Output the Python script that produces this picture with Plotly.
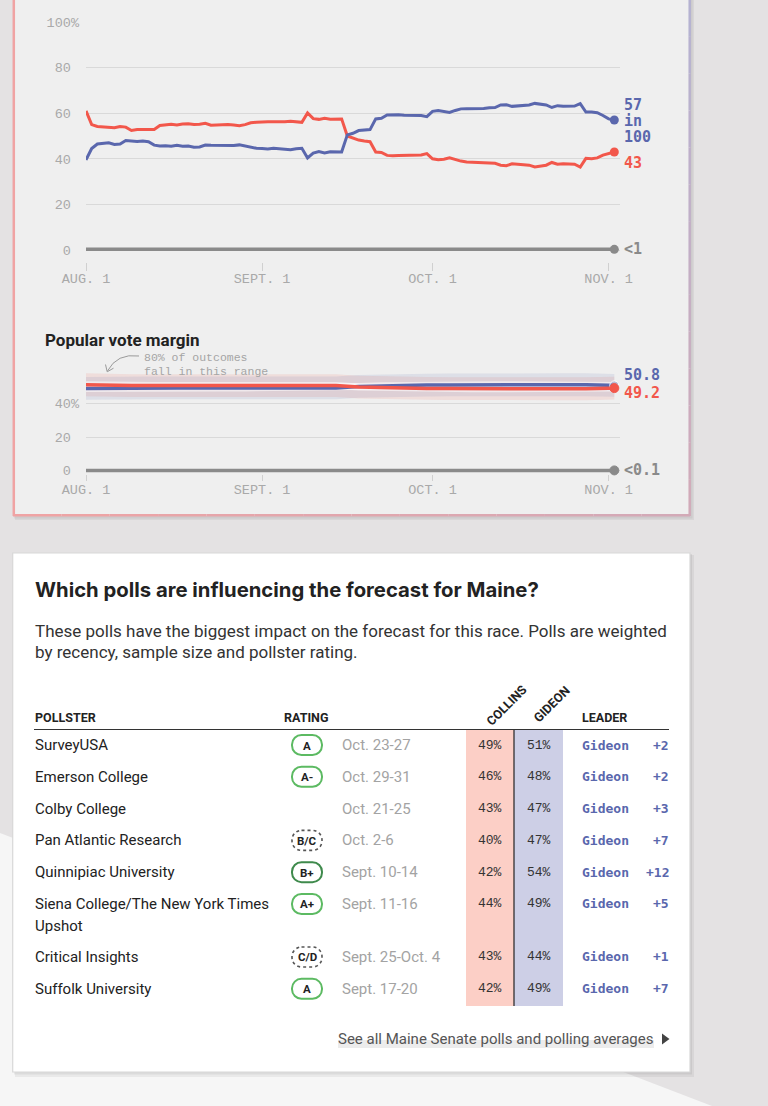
import plotly.graph_objects as go
import pandas as pd

# ---------------- DATA ----------------
# Chance of winning, daily from Aug. 1 to Nov. 2 (in 100)
gideon_win = [39.5, 44.5, 46.5, 46.8, 47.0, 46.3, 46.5, 48.0, 47.8, 47.6, 47.8, 47.5, 46.0, 45.6, 45.7,
              45.5, 45.9, 45.5, 45.6, 45.1, 45.2, 46.0, 45.9, 45.8, 45.9, 45.6, 45.8, 46.1, 45.5, 44.9,
              44.6, 44.5, 44.3, 44.6, 44.4, 44.2, 44.0, 44.4, 44.6, 40.4, 42.5, 43.2, 42.6, 43.1, 43.0,
              43.0, 50.5, 51.2, 52.4, 52.6, 52.8, 57.5, 57.8, 59.2, 59.4, 59.3, 59.1, 59.0, 58.8, 59.0,
              58.5, 60.8, 61.2, 60.8, 60.3, 61.2, 61.9, 62.0, 62.0, 62.1, 62.1, 62.4, 62.5, 63.6, 63.7,
              63.0, 63.2, 63.3, 63.6, 64.3, 63.9, 63.6, 62.5, 63.3, 63.0, 63.0, 63.1, 64.2, 60.5, 60.5,
              60.2, 59.0, 57.5, 57.0]
collins_win = [61.0, 55.0, 54.2, 54.0, 53.8, 53.6, 54.2, 53.9, 52.4, 52.8, 52.8, 53.0, 52.9, 54.6, 55.0,
               55.1, 54.8, 55.3, 55.4, 55.0, 55.2, 55.6, 54.7, 54.8, 55.0, 55.0, 54.8, 54.5, 55.0, 55.8,
               56.0, 56.2, 56.3, 56.2, 56.1, 56.3, 56.5, 56.2, 56.0, 60.1, 57.6, 57.3, 57.8, 57.4, 57.5,
               57.5, 50.0, 49.2, 48.2, 47.8, 47.5, 43.0, 42.8, 41.5, 41.3, 41.5, 41.6, 41.8, 41.9, 41.7,
               42.3, 40.0, 39.6, 39.8, 40.4, 39.6, 39.0, 38.6, 38.5, 38.4, 38.4, 38.2, 38.0, 37.2, 37.0,
               37.8, 37.6, 37.4, 37.2, 36.4, 36.8, 37.2, 38.4, 37.6, 37.8, 37.7, 37.6, 36.4, 40.2, 40.0,
               40.4, 41.6, 42.4, 43.0]
other_dates = ["2020-08-01", "2020-11-02"]
other_win = [0.3, 0.3]

# Popular vote share (every few days)
margin_days = [0, 4, 8, 12, 16, 20, 24, 28, 32, 36, 40, 44, 48, 52, 56, 60, 64, 68, 72, 76, 80, 84, 88, 92, 93]
gideon_vote = [49.0, 49.2, 49.3, 49.3, 49.3, 49.2, 49.3, 49.3, 49.3, 49.3, 49.2, 49.3, 50.2, 50.6, 50.9,
               51.0, 51.1, 51.2, 51.2, 51.2, 51.3, 51.2, 51.2, 50.9, 50.8]
collins_vote = [51.2, 50.8, 50.7, 50.7, 50.7, 50.8, 50.7, 50.7, 50.7, 50.7, 50.8, 50.7, 49.8, 49.4, 49.1,
                49.0, 48.9, 48.8, 48.8, 48.8, 48.7, 48.8, 48.8, 49.1, 49.2]
gideon_hi = [55.8, 56.0, 56.1, 56.1, 56.1, 56.0, 56.1, 56.1, 56.1, 56.1, 56.0, 56.1, 57.0, 57.4, 57.7,
             57.8, 57.9, 58.0, 58.0, 58.0, 58.1, 58.0, 58.0, 57.7, 57.6]
gideon_lo = [42.2, 42.4, 42.5, 42.5, 42.5, 42.4, 42.5, 42.5, 42.5, 42.5, 42.4, 42.5, 43.4, 43.8, 44.1,
             44.2, 44.3, 44.4, 44.4, 44.4, 44.5, 44.4, 44.4, 44.1, 44.0]
collins_hi = [58.0, 57.6, 57.5, 57.5, 57.5, 57.6, 57.5, 57.5, 57.5, 57.5, 57.6, 57.5, 56.6, 56.2, 55.9,
              55.8, 55.7, 55.6, 55.6, 55.6, 55.5, 55.6, 55.6, 55.9, 56.0]
collins_lo = [44.4, 44.0, 43.9, 43.9, 43.9, 44.0, 43.9, 43.9, 43.9, 43.9, 44.0, 43.9, 43.0, 42.6, 42.3,
              42.2, 42.1, 42.0, 42.0, 42.0, 41.9, 42.0, 42.0, 42.3, 42.4]
other_vote = [0.05, 0.05]

x_tickvals = ["2020-08-01", "2020-09-01", "2020-10-01", "2020-11-01"]
x_ticktext = ["AUG. 1", "SEPT. 1", "OCT. 1", "NOV. 1"]
y1_tickvals = [0, 20, 40, 60, 80, 100]
y1_ticktext = ["0\u00a0", "20\u00a0", "40\u00a0", "60\u00a0", "80\u00a0", "100%"]
y2_tickvals = [0, 20, 40]
y2_ticktext = ["0\u00a0", "20\u00a0", "40%"]

# Polls table
pollsters = ["SurveyUSA", "Emerson College", "Colby College", "Pan Atlantic Research",
             "Quinnipiac University", "Siena College/The New York Times|Upshot",
             "Critical Insights", "Suffolk University"]
ratings = ["A", "A-", "", "B/C", "B+", "A+", "C/D", "A"]
poll_dates = ["Oct. 23-27", "Oct. 29-31", "Oct. 21-25", "Oct. 2-6", "Sept. 10-14",
              "Sept. 11-16", "Sept. 25-Oct. 4", "Sept. 17-20"]
collins_pct = [49, 46, 43, 40, 42, 44, 43, 42]
gideon_pct = [51, 48, 47, 47, 54, 49, 44, 49]
leaders = ["Gideon"] * 8
leader_margin = [2, 2, 3, 7, 12, 5, 1, 7]

# ---------------- STYLE / HELPERS ----------------
W, H = 768, 1106
BLUE = "#5a67ad"
RED = "#f2574b"
GRAY = "#8a8a8a"
TICK = "#a9a9a9"
MONO = "Liberation Mono"
BMONO = "DejaVu Sans Mono"
SANS = "Roboto"

def X(p):
    return p / W

def Y(p):
    return 1 - p / H

shapes = []
annotations = []

def rect(x0, y0, x1, y1, fill, lc=None, lw=0, layer="below"):
    shapes.append(dict(type="rect", xref="paper", yref="paper", x0=X(x0), x1=X(x1), y0=Y(y1), y1=Y(y0),
                       fillcolor=fill, line=dict(color=lc or "rgba(0,0,0,0)", width=lw), layer=layer))

def seg(x0, y0, x1, y1, color, w, dash="solid", layer="below"):
    shapes.append(dict(type="line", xref="paper", yref="paper", x0=X(x0), y0=Y(y0), x1=X(x1), y1=Y(y1),
                       line=dict(color=color, width=w, dash=dash), layer=layer))

def pstr(cmds):
    out = []
    for c, pts in cmds:
        out.append(c + " " + " ".join(f"{X(a):.5f},{Y(b):.5f}" for a, b in pts))
    return " ".join(out)

def path(cmds, fill="rgba(0,0,0,0)", lc="rgba(0,0,0,0)", lw=0, dash="solid", close=True, layer="below"):
    s = pstr(cmds) + (" Z" if close else "")
    shapes.append(dict(type="path", xref="paper", yref="paper", path=s, fillcolor=fill,
                       line=dict(color=lc, width=lw, dash=dash), layer=layer))

def rrect(x0, y0, x1, y1, r, **kw):
    k = 0.5523 * r
    cmds = [("M", [(x0 + r, y0)]), ("L", [(x1 - r, y0)]),
            ("C", [(x1 - r + k, y0), (x1, y0 + r - k), (x1, y0 + r)]), ("L", [(x1, y1 - r)]),
            ("C", [(x1, y1 - r + k), (x1 - r + k, y1), (x1 - r, y1)]), ("L", [(x0 + r, y1)]),
            ("C", [(x0 + r - k, y1), (x0, y1 - r + k), (x0, y1 - r)]), ("L", [(x0, y0 + r)]),
            ("C", [(x0, y0 + r - k), (x0 + r - k, y0), (x0 + r, y0)])]
    path(cmds, **kw)

def txt(x, y, s, size, color, family=SANS, xanchor="left", angle=0):
    annotations.append(dict(xref="paper", yref="paper", x=X(x), y=Y(y), text=s, showarrow=False,
                            xanchor=xanchor, yanchor="middle", textangle=angle,
                            font=dict(size=size, color=color, family=family)))

def mix(c1, c2, t):
    a = [int(c1[i:i + 2], 16) for i in (1, 3, 5)]
    b = [int(c2[i:i + 2], 16) for i in (1, 3, 5)]
    return "#" + "".join(f"{round(a[i] + (b[i] - a[i]) * t):02x}" for i in range(3))

# ---------------- BACKGROUND ----------------
path([("M", [(0, 833)]), ("L", [(712, 1106)]), ("L", [(0, 1106)])], fill="#f6f6f6")

# top panel
rect(15, 0, 694, 520, "rgba(0,0,0,0.05)")
rect(14, 0, 692.5, 518.5, "rgba(0,0,0,0.05)")
rect(13, 0, 690, 516, "#efefef")
seg(13.8, 0, 13.8, 516, "#f0a3a3", 2.5)
n = 14
for i in range(n):
    xa = 13 + (690 - 13) * i / n
    xb = 13 + (690 - 13) * (i + 1) / n
    seg(xa, 515.3, xb, 515.3, mix("#f0a3a3", "#d2aab8", (i + 0.5) / n), 2.5)
for i in range(n):
    ya = 516 * i / n
    yb = 516 * (i + 1) / n
    seg(689.7, ya, 689.7, yb, mix("#b4b2d2", "#d2aab8", (i + 0.5) / n), 2.5)

# bottom panel
rect(15, 555, 694, 1077, "rgba(0,0,0,0.05)")
rect(14, 554, 692, 1074.5, "rgba(0,0,0,0.06)")
rect(12.7, 553, 690, 1072, "#ffffff", lc="#d8d8d8", lw=1.2)

# ---------------- CHARTS ----------------
dates = pd.date_range("2020-08-01", periods=len(gideon_win), freq="D")
mdates = pd.Timestamp("2020-08-01") + pd.to_timedelta(margin_days, unit="D")

fig = go.Figure()

# Chart 1: chance of winning
fig.add_trace(go.Scatter(x=dates, y=collins_win, mode="lines", line=dict(color=RED, width=3),
                         xaxis="x", yaxis="y", hoverinfo="skip"))
fig.add_trace(go.Scatter(x=dates, y=gideon_win, mode="lines", line=dict(color=BLUE, width=3),
                         xaxis="x", yaxis="y", hoverinfo="skip"))
fig.add_trace(go.Scatter(x=other_dates, y=other_win, mode="lines", line=dict(color=GRAY, width=3.5),
                         xaxis="x", yaxis="y", hoverinfo="skip"))
fig.add_trace(go.Scatter(x=[dates[-1], dates[-1], other_dates[-1]],
                         y=[gideon_win[-1], collins_win[-1], other_win[-1]], mode="markers",
                         marker=dict(color=[BLUE, RED, GRAY], size=9), cliponaxis=False,
                         xaxis="x", yaxis="y", hoverinfo="skip"))

# Chart 2: popular vote
fig.add_trace(go.Scatter(x=mdates, y=collins_hi, mode="lines", line=dict(width=0), xaxis="x2", yaxis="y2",
                         hoverinfo="skip"))
fig.add_trace(go.Scatter(x=mdates, y=collins_lo, mode="lines", line=dict(width=0), fill="tonexty",
                         fillcolor="rgba(242,87,75,0.12)", xaxis="x2", yaxis="y2", hoverinfo="skip"))
fig.add_trace(go.Scatter(x=mdates, y=gideon_hi, mode="lines", line=dict(width=0), xaxis="x2", yaxis="y2",
                         hoverinfo="skip"))
fig.add_trace(go.Scatter(x=mdates, y=gideon_lo, mode="lines", line=dict(width=0), fill="tonexty",
                         fillcolor="rgba(90,103,173,0.12)", xaxis="x2", yaxis="y2", hoverinfo="skip"))
for yy in (gideon_vote, collins_vote):
    fig.add_trace(go.Scatter(x=mdates, y=yy, mode="lines", line=dict(color="rgba(255,255,255,0.55)", width=7),
                             xaxis="x2", yaxis="y2", hoverinfo="skip"))
fig.add_trace(go.Scatter(x=mdates, y=gideon_vote, mode="lines", line=dict(color=BLUE, width=3.5),
                         xaxis="x2", yaxis="y2", hoverinfo="skip"))
fig.add_trace(go.Scatter(x=mdates, y=collins_vote, mode="lines", line=dict(color=RED, width=3.5),
                         xaxis="x2", yaxis="y2", hoverinfo="skip"))
fig.add_trace(go.Scatter(x=other_dates, y=other_vote, mode="lines", line=dict(color=GRAY, width=3.5),
                         xaxis="x2", yaxis="y2", hoverinfo="skip"))
fig.add_trace(go.Scatter(x=[mdates[-1], mdates[-1], other_dates[-1]],
                         y=[gideon_vote[-1], collins_vote[-1], other_vote[-1]], mode="markers",
                         marker=dict(color=["rgba(90,103,173,0.35)", RED, GRAY], size=9,
                                     line=dict(color=["#ffffff", RED, GRAY], width=1)),
                         cliponaxis=False, xaxis="x2", yaxis="y2", hoverinfo="skip"))

# end labels
txt(622, 105, "<b>57</b>", 15, BLUE, BMONO)
txt(622, 121, "<b>in</b>", 15, BLUE, BMONO)
txt(622, 137, "<b>100</b>", 15, BLUE, BMONO)
txt(622, 163, "<b>43</b>", 15, RED, BMONO)
txt(622, 249, "<b><1</b>", 15, GRAY, BMONO)
txt(622, 375, "<b>50.8</b>", 15, BLUE, BMONO)
txt(622, 393, "<b>49.2</b>", 15, RED, BMONO)
txt(622, 470, "<b><0.1</b>", 15, GRAY, BMONO)

txt(43, 339.5, "<b>Popular vote margin</b>", 17, "#222222", SANS)
txt(142, 357.5, "80% of outcomes", 11.5, "#a5a5a5", MONO)
txt(142, 371, "fall in this range", 11.5, "#a5a5a5", MONO)
path([("M", [(139, 356)]), ("Q", [(117, 353), (107.5, 371)])], lc="#9a9a9a", lw=1, close=False, layer="above")
path([("M", [(105.5, 364.5)]), ("L", [(107.2, 371.8)]), ("L", [(113.5, 368.2)])], lc="#9a9a9a", lw=1,
     close=False, layer="above")

# ---------------- TABLE ----------------
txt(33, 589, "<b>Which polls are influencing the forecast for Maine?</b>", 20.3, "#222222", "Inter")
txt(33, 631, "These polls have the biggest impact on the forecast for this race. Polls are weighted", 17, "#333333")
txt(33, 652, "by recency, sample size and pollster rating.", 17, "#333333")

txt(33, 717, "<b>POLLSTER</b>", 12.5, "#222222")
txt(282, 717, "<b>RATING</b>", 12.5, "#222222")
txt(580, 717, "<b>LEADER</b>", 12.5, "#222222")
txt(506, 705, "<b>COLLINS</b>", 12.5, "#222222", xanchor="center", angle=-45)
txt(551, 704, "<b>GIDEON</b>", 12.5, "#222222", xanchor="center", angle=-45)

rect(466, 729.5, 514, 1006, "#fccfc6")
rect(514, 729.5, 563, 1006, "#cdcfe6")
seg(514, 729.5, 514, 1006, "#222222", 1.2)
seg(34, 729.5, 669, 729.5, "#333333", 1.2)

row_y = []
yy0 = 745.0
for name in pollsters:
    row_y.append(yy0)
    yy0 += 31.8 + 21.2 * name.count("|")

for i, name in enumerate(pollsters):
    y = row_y[i]
    for j, part in enumerate(name.split("|")):
        txt(33, y + 22 * j, part, 15, "#222222")
    r = ratings[i]
    if r:
        if "/" in r:
            rrect(292, y - 10, 322, y + 10, 9.5, fill="#ffffff", lc="#555555", lw=1.6, dash="dot")
        else:
            col = "#3f8a4c" if r == "B+" else "#5cba62"
            rrect(292, y - 10, 322, y + 10, 9.5, fill="#ffffff", lc=col, lw=2)
        txt(307, y + 0.5, f"<b>{r}</b>", 11.5, "#222222", xanchor="center")
    txt(340, y, poll_dates[i], 15, "#a3a3a3")
    txt(490, y, f"{collins_pct[i]}%", 13, "#333333", MONO, xanchor="center")
    txt(539, y, f"{gideon_pct[i]}%", 13, "#333333", MONO, xanchor="center")
    txt(580, y, f"<b>{leaders[i]}</b>", 13, BLUE, BMONO)
    txt(671, y, f"<b>+{leader_margin[i]}</b>", 13, BLUE, BMONO, xanchor="right")

rect(338, 1040, 654, 1048, "#ececec")
txt(655, 1039, "See all Maine Senate polls and polling averages", 15, "#555555", xanchor="right")
path([("M", [(662, 1033.5)]), ("L", [(669.5, 1039)]), ("L", [(662, 1044.5)])], fill="#444444")

# ---------------- LAYOUT ----------------
xcommon = dict(range=["2020-08-01", "2020-11-03"], tickvals=x_tickvals, ticktext=x_ticktext,
               ticks="outside", tickcolor="#d0d0d0", tickwidth=1, showgrid=False, zeroline=False,
               showline=False, tickfont=dict(family=MONO, size=13.5, color=TICK),
               domain=[X(86), X(620)], fixedrange=True, automargin=False)
ycommon = dict(showgrid=True, gridcolor="#d9d9d9", gridwidth=1, zeroline=False, showline=False, ticks="",
               tickfont=dict(family=MONO, size=13.5, color=TICK), ticklabelstandoff=6, fixedrange=True,
               automargin=False)

fig.update_layout(
    width=W, height=H, autosize=False,
    margin=dict(l=0, r=0, t=0, b=0, pad=0, autoexpand=False),
    paper_bgcolor="#e4e2e3", plot_bgcolor="rgba(0,0,0,0)", showlegend=False,
    xaxis=dict(**xcommon, anchor="y", ticklen=8, ticklabelstandoff=-4),
    yaxis=dict(**ycommon, anchor="x", domain=[Y(262), Y(22)], range=[-12 / 2.28, 100],
               tickvals=y1_tickvals, ticktext=y1_ticktext),
    xaxis2=dict(**xcommon, anchor="y2", ticklen=6, ticklabelstandoff=-3),
    yaxis2=dict(**ycommon, anchor="x2", domain=[Y(474), Y(370)], range=[-3.5 / 1.675, 100.5 / 1.675],
                tickvals=y2_tickvals, ticktext=y2_ticktext),
    shapes=shapes, annotations=annotations,
)

fig.write_html("out.html", config={"responsive": False, "displayModeBar": False},
               post_script="document.body.style.margin='0';document.body.style.overflow='hidden';")
